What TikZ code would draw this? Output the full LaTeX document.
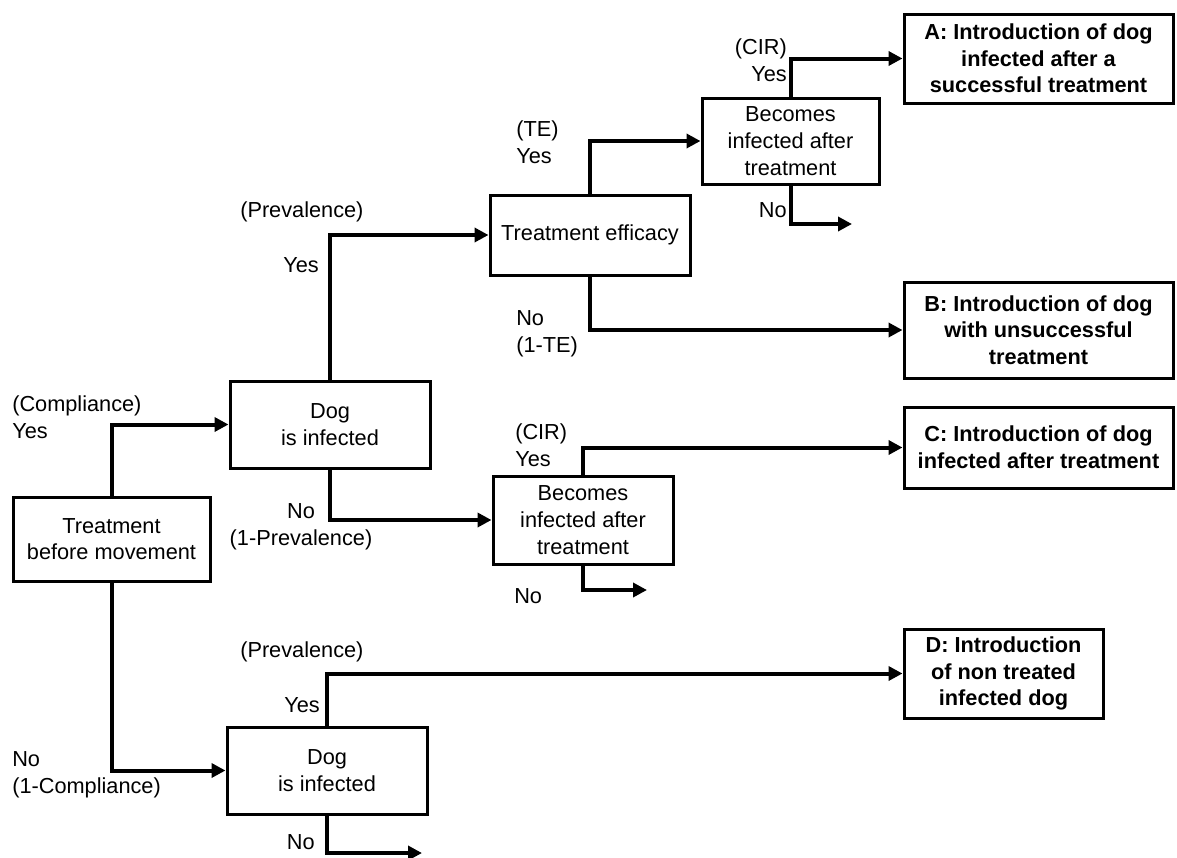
\documentclass[tikz,border=0pt]{standalone}
\usepackage{fontspec}
\setmainfont{Liberation Sans}
\usepackage{tikz}
\usetikzlibrary{arrows.meta}

\begin{document}
\begin{tikzpicture}[x=0.75pt, y=-0.75pt, inner sep=2pt,
	font=\fontsize{16.3}{20}\selectfont,
	box/.style = {draw, line width=2.25pt, align=center},
	result/.style = {box, font=\fontsize{16.3}{20}\selectfont\bfseries, minimum width=201.75pt},
	arr/.style = {line width=3pt, -{Triangle[length=10.5pt, width=10.5pt]}},
	lbl/.style = {inner sep=0pt, align=left}]
	\useasboundingbox (0,0) rectangle (1177,857);
	\node[box, minimum width=147.75pt, minimum height=63pt] (treat) at (111.5,539) {Treatment\\before movement};
	\node[box, minimum width=150pt, minimum height=65.25pt] (dog1) at (330,424.5) {Dog\\is infected};
	\node[box, minimum width=150pt, minimum height=65.25pt] (dog2) at (327,770.5) {Dog\\is infected};
	\node[box, minimum width=150pt, minimum height=60pt] (eff) at (590,235) {Treatment efficacy};
	\node[box, minimum width=132.75pt, minimum height=64.5pt] (inf1) at (790.5,141) {Becomes\\infected after\\treatment};
	\node[box, minimum width=135pt, minimum height=66pt] (inf2) at (583,520) {Becomes\\infected after\\treatment};
	\node[result, minimum height=66.75pt] (A) at (1038.5,58.5) {A: Introduction of dog\\infected after a\\successful treatment};
	\node[result, minimum height=72pt] (B) at (1038.5,330) {B: Introduction of dog\\with unsuccessful\\treatment};
	\node[result, minimum height=60.75pt] (C) at (1038.5,447.5) {C: Introduction of dog\\infected after treatment};
	\node[result, minimum width=149.25pt, minimum height=66.75pt] (D) at (1003.5,673.5) {D: Introduction\\of non treated\\infected dog};
	\coordinate (end1) at (852,224);
	\coordinate (end2) at (647,590);
	\coordinate (end3) at (422,853);
	% branch labels
	\node[lbl, anchor=west] (l1) at (12,417) {(Compliance)\\Yes};
	\node[lbl, anchor=west] (l2) at (12,775) {No\\(1-Compliance)};
	\node[lbl, anchor=west] (l3) at (240,212) {(Prevalence)};
	\node[lbl, anchor=east] (l4) at (319,265) {Yes};
	\node[lbl, align=center] (l5) at (301,527) {No\\(1-Prevalence)};
	\node[lbl, anchor=west] (l6) at (516,142) {(TE)\\Yes};
	\node[lbl, anchor=west] (l7) at (516,334) {No\\(1-TE)};
	\node[lbl, anchor=east, align=right] (l8) at (787,60) {(CIR)\\Yes};
	\node[lbl, anchor=east] (l9) at (787,210) {No};
	\node[lbl, anchor=west] (l10) at (515,445) {(CIR)\\Yes};
	\node[lbl, anchor=west] (l11) at (514,596) {No};
	\node[lbl, anchor=west] (l12) at (240,652) {(Prevalence)};
	\node[lbl, anchor=east] (l13) at (320,705) {Yes};
	\node[lbl, anchor=east] (l14) at (315,842) {No};
	% connectors
	\draw[arr] (treat.north) |- (dog1.west);
	\draw[arr] (treat.south) |- (dog2.west);
	\draw[arr] (dog1.north) |- (eff.west);
	\draw[arr] (dog1.south) |- (inf2.west);
	\draw[arr] (eff.north) |- (inf1.west);
	\draw[arr] (eff.south) |- (B.west);
	\draw[arr] (inf1.north) |- (A.west);
	\draw[arr] (inf1.south) |- (end1);
	\draw[arr] (inf2.north) |- (C.west);
	\draw[arr] (inf2.south) |- (end2);
	\draw[arr] (dog2.north) |- (D.west);
	\draw[arr] (dog2.south) |- (end3);
\end{tikzpicture}
\end{document}
